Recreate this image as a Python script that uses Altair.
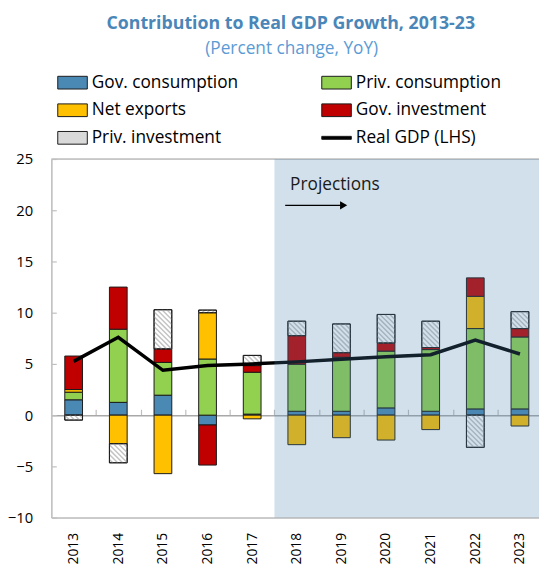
import altair as alt
import pandas as pd

# ---------------- data ----------------
years = [2013, 2014, 2015, 2016, 2017, 2018, 2019, 2020, 2021, 2022, 2023]
gov_consumption = [1.50, 1.25, 1.95, -0.96, 0.10, 0.38, 0.38, 0.71, 0.38, 0.61, 0.61]
priv_consumption = [0.74, 7.14, 3.20, 5.48, 4.09, 4.59, 5.27, 5.54, 6.02, 7.84, 7.02]
net_exports = [0.26, -2.79, -5.71, 4.52, -0.36, -2.88, -2.20, -2.43, -1.41, 3.15, -1.06]
gov_investment = [3.27, 4.11, 1.32, -3.91, 0.65, 2.79, 0.45, 0.80, 0.20, 1.80, 0.82]
priv_investment = [-0.48, -1.86, 3.82, 0.25, 0.99, 1.41, 2.80, 2.78, 2.57, -3.14, 1.65]
real_gdp = [5.25, 7.60, 4.38, 4.85, 5.00, 5.20, 5.45, 5.70, 5.90, 7.33, 5.97]

series_names = ["Gov. consumption", "Priv. consumption", "Net exports",
                "Gov. investment", "Priv. investment"]
gdp_name = "Real GDP (LHS)"
series_colors = ["#4b89b5", "#92d050", "#ffc000", "#c00000", "#d9d9d9"]
gdp_color = "#000000"
# legend reading order (two columns, filled column by column)
legend_order = ["Gov. consumption", "Net exports", "Priv. investment",
                "Priv. consumption", "Gov. investment", "Real GDP (LHS)"]
y_ticks = [-10, -5, 0, 5, 10, 15, 20, 25]
projection_start = 2017.5

title_text = "Contribution to Real GDP Growth, 2013-23"
subtitle_text = "(Percent change, YoY)"

# ---------------- layout constants ----------------
W, H = 495, 364
Y_MIN, Y_MAX = -10, 25
BAND_PX = 45.3
X_MIN = 2012.5
X_MAX = X_MIN + W / BAND_PX
PX_PER_Y = H / (Y_MAX - Y_MIN)
BAR_PX = 18
HALF = BAR_PX / 2 / BAND_PX
HATCH_STEP = 5.0
FONT = "Open Sans"
GRID_GRAY = "#bfbfbf"
EDGE = "#1a1a1a"

# ---------------- tables built from the arrays ----------------
all_series = [gov_consumption, priv_consumption, net_exports, gov_investment, priv_investment]
rows = []
for i, yr in enumerate(years):
    pos = neg = 0.0
    for k, (name, vals) in enumerate(zip(series_names, all_series)):
        v = vals[i]
        if v >= 0:
            lo, hi = pos, pos + v
            pos += v
        else:
            lo, hi = neg + v, neg
            neg += v
        rows.append(dict(year=yr, series=name, order=k, value=v, lo=lo, hi=hi))
bars = pd.DataFrame(rows)

# hatch lines for the private-investment segments ("\" direction)
hrows = []
for _, r in bars[bars.series == "Priv. investment"].iterrows():
    lo_px, hi_px = r.lo * PX_PER_Y, r.hi * PX_PER_Y
    k0 = int(lo_px // HATCH_STEP) - 1
    k1 = int((hi_px + BAR_PX) // HATCH_STEP) + 2
    for k in range(k0, k1):
        c = k * HATCH_STEP
        u0 = max(0.0, c - hi_px)
        u1 = min(float(BAR_PX), c - lo_px)
        if u1 - u0 > 0.8:
            hrows.append(dict(
                hx=r.year - HALF + u0 / BAND_PX, hy=(c - u0) / PX_PER_Y,
                hx2=r.year - HALF + u1 / BAND_PX, hy2=(c - u1) / PX_PER_Y))
hatch = pd.DataFrame(hrows)

gdp = pd.DataFrame({"year": years, "gdp": real_gdp})
one = pd.DataFrame({"k": [0]})

# ---------------- scales & axes ----------------
xscale = alt.Scale(domain=[X_MIN, X_MAX], nice=False, zero=False)
yscale = alt.Scale(domain=[Y_MIN, Y_MAX], nice=False, zero=False)
bar_color_scale = alt.Scale(domain=series_names, range=series_colors)
all_colors = dict(zip(series_names + [gdp_name], series_colors + [gdp_color]))
fill_scale = alt.Scale(domain=legend_order, range=[all_colors[n] for n in legend_order])
stroke_scale = alt.Scale(domain=legend_order, range=[EDGE] * len(legend_order))
shape_scale = alt.Scale(domain=legend_order,
                        range=["M-1,-0.1H1V0.1H-1Z" if n == gdp_name else "M-1,-0.43H1V0.43H-1Z"
                               for n in legend_order])

x_axis_bottom = alt.Axis(orient="bottom", values=years, format="d", labelAngle=270,
                         ticks=False, grid=False, domainColor=GRID_GRAY, domainWidth=1.5,
                         labelFont=FONT, labelFontSize=14, labelColor="black",
                         labelPadding=15, labelOverlap=False, labelFlush=False, title=None)
x_axis_zero = alt.Axis(orient="top", offset=-(Y_MAX * PX_PER_Y),
                       values=[y + 0.5 for y in years[:-1]], labels=False, ticks=True,
                       tickSize=6, tickColor=GRID_GRAY, tickWidth=1.2, grid=False,
                       domainColor="#a8a8a8", domainWidth=1.5, title=None)
y_axis_left = alt.Axis(orient="left", values=y_ticks, ticks=False, grid=False,
                       domainColor=GRID_GRAY, domainWidth=1.5, labelFont=FONT,
                       labelFontSize=15, labelColor="black", labelPadding=19, title=None)
y_axis_ticks = alt.Axis(orient="right", offset=-W, values=y_ticks, labels=False,
                        domain=False, ticks=True, tickSize=5, tickColor=GRID_GRAY,
                        tickWidth=1.2, grid=False, title=None)

legend = alt.Legend(orient="none", legendX=6, legendY=-93, columns=2, columnPadding=82,
                    rowPadding=4, symbolSize=900, labelFont=FONT, labelFontSize=17.5,
                    labelColor="black", labelOffset=4, symbolStrokeWidth=1,
                    symbolOpacity=1, padding=0, labelLimit=300)


def qx(v):
    return alt.X(datum=v, type="quantitative", scale=xscale, axis=None)


def qy(v):
    return alt.Y(datum=v, type="quantitative", scale=yscale, axis=None)


# ---------------- layers ----------------
bar_layer = alt.Chart(bars).transform_calculate(
    x0=f"datum.year - {HALF}", x1=f"datum.year + {HALF}"
).mark_bar(stroke=EDGE, strokeWidth=1).encode(
    x=alt.X("x0:Q", scale=xscale, axis=x_axis_bottom),
    x2="x1:Q",
    y=alt.Y("lo:Q", scale=yscale, axis=y_axis_left),
    y2="hi:Q",
    color=alt.condition(alt.datum.series == "Priv. investment", alt.value("white"),
                        alt.Color("series:N", scale=bar_color_scale, legend=None)),
)

hatch_layer = alt.Chart(hatch).mark_rule(color="#c4c4c4", strokeWidth=1.5).encode(
    x=alt.X("hx:Q", scale=xscale, axis=None), x2="hx2:Q",
    y=alt.Y("hy:Q", scale=yscale, axis=None), y2="hy2:Q",
)

hatch_outline = alt.Chart(bars).transform_filter(
    alt.datum.series == "Priv. investment"
).transform_calculate(
    x0=f"datum.year - {HALF}", x1=f"datum.year + {HALF}"
).mark_bar(fillOpacity=0, stroke=EDGE, strokeWidth=1).encode(
    x=alt.X("x0:Q", scale=xscale, axis=None), x2="x1:Q",
    y=alt.Y("lo:Q", scale=yscale, axis=None), y2="hi:Q",
)

line_layer = alt.Chart(gdp).mark_line(color="black", strokeWidth=3.5).encode(
    x=alt.X("year:Q", scale=xscale, axis=x_axis_zero),
    y=alt.Y("gdp:Q", scale=yscale, axis=y_axis_ticks),
)

legend_layer = alt.Chart(bars).transform_filter("false").mark_point(
    filled=True, opacity=1, strokeWidth=1
).encode(
    x=alt.X("year:Q", scale=xscale, axis=None),
    y=alt.Y("value:Q", scale=yscale, axis=None),
    fill=alt.Fill("series:N", scale=fill_scale, legend=legend, title=None),
    stroke=alt.Stroke("series:N", scale=stroke_scale, legend=legend, title=None),
    shape=alt.Shape("series:N", scale=shape_scale, legend=legend, title=None),
)

top_frame = alt.Chart(one).mark_rule(color=GRID_GRAY, strokeWidth=1.5).encode(
    x=qx(X_MIN), x2=alt.X2(datum=X_MAX), y=qy(Y_MAX),
)

overlay = alt.Chart(one).mark_rect(color="#4982aa", opacity=0.25).encode(
    x=qx(projection_start), x2=alt.X2(datum=X_MAX),
    y=qy(Y_MIN), y2=alt.Y2(datum=Y_MAX),
)

proj_text = alt.Chart(one).mark_text(text="Projections", font=FONT, fontSize=17.5,
                                     color=EDGE, align="left",
                                     baseline="alphabetic").encode(
    x=qx(2017.85), y=qy(21.95),
)
arrow_shaft = alt.Chart(one).mark_rule(color="black", strokeWidth=1.3).encode(
    x=qx(2017.74), x2=alt.X2(datum=2018.98), y=qy(20.48),
)
arrow_head = alt.Chart(one).mark_point(shape="triangle-right", filled=True, color="black",
                                       size=70, opacity=1).encode(
    x=qx(2019.05), y=qy(20.48),
)

title_mark = alt.Chart(one).mark_text(text=title_text, font=FONT, fontSize=18,
                                      fontWeight="bold", color="#4a86b8", align="center",
                                      baseline="alphabetic").encode(
    x=alt.value(243), y=alt.value(-132),
)
subtitle_mark = alt.Chart(one).mark_text(text=subtitle_text, font=FONT, fontSize=17.5,
                                         color="#5b9bd5", align="center",
                                         baseline="alphabetic").encode(
    x=alt.value(244), y=alt.value(-107),
)

chart = alt.layer(
    bar_layer, hatch_layer, hatch_outline, line_layer, legend_layer, top_frame,
    overlay, proj_text, arrow_shaft, arrow_head, title_mark, subtitle_mark,
).resolve_axis(
    x="independent", y="independent"
).resolve_scale(
    color="independent", fill="independent", stroke="independent", shape="independent"
).properties(
    width=W, height=H,
    autosize=alt.AutoSizeParams(type="none"),
    padding={"left": 44, "top": 149, "right": 0, "bottom": 56},
).configure_view(strokeWidth=0).configure(font=FONT)

chart.save("out.html", embed_options={"renderer": "svg", "actions": False})
